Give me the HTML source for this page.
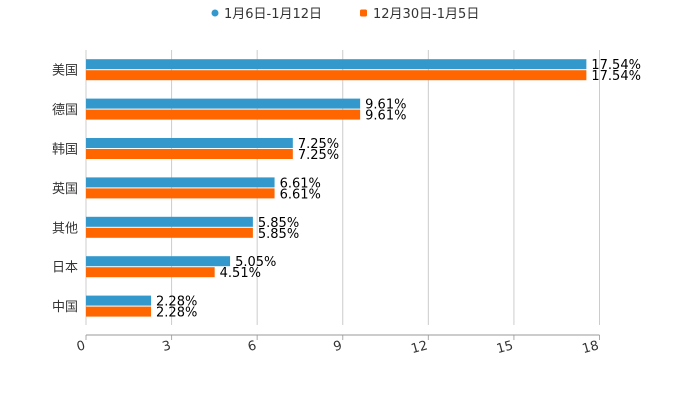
<!DOCTYPE html>
<html><head><meta charset="utf-8"><style>
body{margin:0;background:#fff;}
svg{display:block;font-family:"DejaVu Sans","Noto Sans CJK SC",sans-serif;}
</style></head><body>
<svg id="chart" width="700" height="400">
<g id="legend">
<g>
<circle cx="215" cy="13" r="3.5" fill="#3399cc"/>
<text x="224" y="18" font-size="13" fill="#333">1月6日-1月12日</text></g>
<g>
<rect x="360" y="9.5" width="7" height="7" rx="1.5" fill="#ff6600"/>
<text x="373" y="18" font-size="13" fill="#333">12月30日-1月5日</text></g>
</g>
<g id="grid"></g><g id="bars"></g><g id="axis"></g>
</svg>
<script>
const categories=["美国","德国","韩国","英国","其他","日本","中国"];
const seriesA=[17.54,9.61,7.25,6.61,5.85,5.05,2.28];
const seriesB=[17.54,9.61,7.25,6.61,5.85,4.51,2.28];
const ticks=[0,3,6,9,12,15,18];
const NS="http://www.w3.org/2000/svg";
const X0=86,X1=599.5,TOPY=50,BANDH=39.4;
const xs=v=>X0+(X1-X0)*v/18;
function mk(tag,attrs,parent,txt){const e=document.createElementNS(NS,tag);for(const k in attrs)e.setAttribute(k,attrs[k]);if(txt!==undefined)e.textContent=txt;parent.appendChild(e);return e;}
const grid=document.getElementById('grid'),bars=document.getElementById('bars'),axis=document.getElementById('axis');
ticks.forEach(t=>{
 const l=mk('line',{x1:xs(t),x2:xs(t),y1:TOPY,y2:325,stroke:'#ccc','stroke-width':1},grid);
 
 
 const tk=mk('line',{x1:xs(t),x2:xs(t),y1:335,y2:340,stroke:'#aaa'},axis);
 
 
 const tx=mk('text',{x:xs(t),y:349,'font-size':13,fill:'#333','text-anchor':'end',transform:`rotate(-15 ${xs(t)} 349)`},axis,String(t));
 
 
});
const al=mk('line',{x1:X0,x2:X1,y1:335,y2:335,stroke:'#999','stroke-width':1},axis);


categories.forEach((c,i)=>{
 const cy=TOPY+BANDH*i+BANDH/2;
 const lb=mk('text',{x:78,y:cy+5,'font-size':13,fill:'#333','text-anchor':'end'},axis,c);
 
 
 [[seriesA,'#3399cc',cy-10.5],[seriesB,'#ff6600',cy+0.5]].forEach(([s,col,y],j)=>{
  const v=s[i];
  const r=mk('rect',{x:X0,y:y,width:xs(v)-X0,height:10,fill:col},bars);
  
  
  const t=mk('text',{x:xs(v)+5,y:y+10,'font-size':13,fill:'#000'},bars,v.toFixed(2)+'%');
  
  
 });
});
</script>
</body></html>
